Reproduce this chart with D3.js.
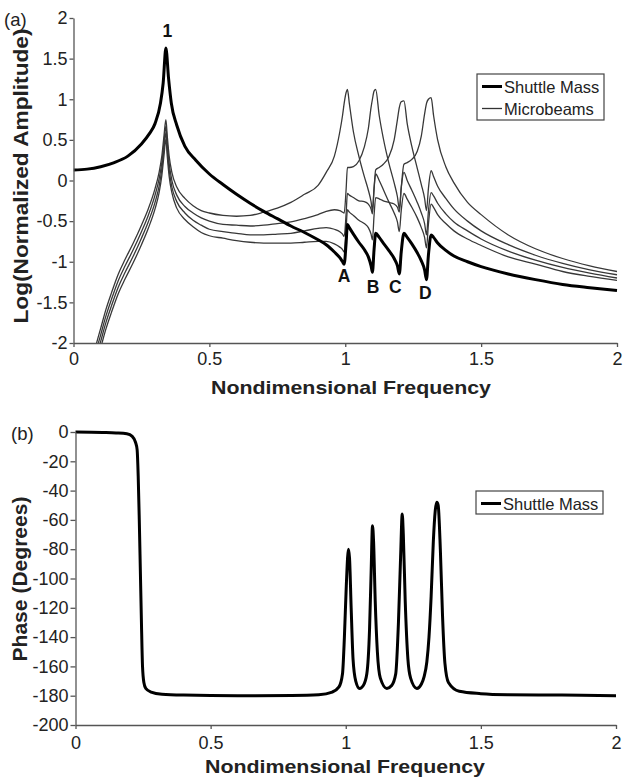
<!DOCTYPE html>
<html>
<head>
<meta charset="utf-8">
<script src="https://cdn.jsdelivr.net/npm/d3@7"></script>
<style>
    body { margin: 0; background: #fff; }
    svg text { font-family: Arial, "Liberation Sans", Helvetica, sans-serif; }
</style>
</head>
<body>
<div id="chart"></div>
<script>
// ---- Panel (a): log amplitude ----
const freqShuttle = [0, 0.05, 0.1, 0.15, 0.2, 0.25, 0.28, 0.3, 0.32, 0.33, 0.34, 0.35, 0.36, 0.38, 0.41, 0.45,
    0.5, 0.55, 0.6, 0.65, 0.7, 0.75, 0.8, 0.85, 0.9, 0.93, 0.96, 0.98, 0.99, 0.996, 1.003, 1.008, 1.015, 1.03,
    1.05, 1.07, 1.085, 1.095, 1.1, 1.106, 1.112, 1.125, 1.14, 1.16, 1.18, 1.192, 1.199, 1.206, 1.216, 1.228,
    1.245, 1.265, 1.28, 1.292, 1.299, 1.306, 1.316, 1.325, 1.34, 1.37, 1.4, 1.45, 1.5, 1.6, 1.7, 1.8, 1.9, 2.0];
const ampShuttle = [0.13, 0.14, 0.17, 0.22, 0.30, 0.45, 0.58, 0.70, 0.95, 1.2, 1.63, 1.25, 0.95, 0.68, 0.42, 0.25,
    0.08, -0.05, -0.17, -0.28, -0.38, -0.47, -0.56, -0.64, -0.73, -0.79, -0.88, -0.95, -1.0, -1.03, -0.78, -0.54, -0.58, -0.66,
    -0.76, -0.85, -0.94, -1.05, -1.13, -0.85, -0.65, -0.70, -0.77, -0.86, -0.96, -1.05, -1.15, -0.88, -0.65, -0.70,
    -0.78, -0.89, -0.99, -1.10, -1.22, -0.92, -0.67, -0.70, -0.77, -0.86, -0.93, -1.0, -1.06, -1.15, -1.22, -1.28, -1.32, -1.355];

const freqBeam = [0.07, 0.085, 0.1, 0.12, 0.14, 0.165, 0.19, 0.22, 0.25, 0.275, 0.3, 0.315, 0.325, 0.333, 0.34,
    0.345, 0.352, 0.362, 0.38, 0.41, 0.44, 0.47, 0.5, 0.55, 0.6, 0.65, 0.7, 0.75, 0.8, 0.85, 0.9, 0.93, 0.96, 0.98, 0.99,
    0.996, 1.003, 1.008, 1.015, 1.03, 1.05, 1.07, 1.085, 1.095, 1.1, 1.106, 1.112, 1.125, 1.14, 1.16,
    1.18, 1.192, 1.199, 1.206, 1.216, 1.228, 1.245, 1.265, 1.28, 1.292, 1.299, 1.306, 1.316, 1.325, 1.34,
    1.37, 1.4, 1.45, 1.5, 1.6, 1.7, 1.8, 1.9, 2.0];
const ampBeam1 = [-2.2, -2.0, -1.82, -1.58, -1.38, -1.15, -0.97, -0.77, -0.55, -0.35, -0.1, 0.1, 0.3, 0.55, 0.75,
    0.55, 0.3, 0.1, -0.08, -0.22, -0.31, -0.37, -0.40, -0.43, -0.44, -0.43, -0.39, -0.34, -0.27, -0.17, -0.06, 0.1, 0.3, 0.6, 0.8,
    0.95, 1.08, 1.12, 0.95, 0.6, 0.3, 0.05, -0.12, -0.26, -0.37, -0.1, 0.08, 0.0, -0.11, -0.26,
    -0.4, -0.51, -0.63, -0.37, -0.16, -0.23, -0.33, -0.46, -0.58, -0.7, -0.83, -0.54, -0.29, -0.33, -0.42,
    -0.53, -0.62, -0.72, -0.8, -0.94, -1.03, -1.12, -1.18, -1.23];
const ampBeam2 = [-2.28, -2.08, -1.9, -1.66, -1.46, -1.23, -1.05, -0.85, -0.63, -0.43, -0.18, 0.02, 0.22, 0.47, 0.67,
    0.46, 0.21, 0.0, -0.18, -0.32, -0.40, -0.46, -0.50, -0.54, -0.55, -0.56, -0.55, -0.53, -0.51, -0.47, -0.42, -0.38, -0.36, -0.37, -0.39,
    -0.40, -0.12, 0.16, 0.16, 0.17, 0.24, 0.41, 0.64, 0.9, 1.0, 1.1, 1.12, 0.8, 0.52, 0.22,
    -0.03, -0.2, -0.35, -0.09, 0.1, 0.0, -0.12, -0.27, -0.4, -0.53, -0.67, -0.38, -0.15, -0.19, -0.28,
    -0.41, -0.51, -0.62, -0.72, -0.87, -0.98, -1.07, -1.14, -1.2];
const ampBeam3 = [-2.37, -2.16, -1.98, -1.74, -1.54, -1.31, -1.13, -0.93, -0.71, -0.51, -0.27, -0.07, 0.14, 0.39, 0.59,
    0.38, 0.13, -0.08, -0.26, -0.40, -0.49, -0.55, -0.60, -0.63, -0.65, -0.67, -0.67, -0.66, -0.65, -0.62, -0.59, -0.58, -0.60, -0.63, -0.66,
    -0.69, -0.42, -0.16, -0.18, -0.21, -0.25, -0.26, -0.29, -0.35, -0.41, -0.10, 0.13, 0.16, 0.2, 0.29,
    0.5, 0.75, 0.9, 0.97, 0.98, 0.7, 0.42, 0.15, -0.05, -0.22, -0.37, -0.1, 0.12, 0.05, -0.07,
    -0.22, -0.35, -0.5, -0.62, -0.79, -0.92, -1.02, -1.1, -1.16];
const ampBeam4 = [-2.44, -2.24, -2.06, -1.82, -1.62, -1.39, -1.21, -1.01, -0.79, -0.59, -0.35, -0.15, 0.06, 0.31, 0.51,
    0.30, 0.05, -0.15, -0.34, -0.48, -0.57, -0.64, -0.68, -0.71, -0.74, -0.76, -0.77, -0.77, -0.77, -0.76, -0.75, -0.75, -0.78, -0.82, -0.85,
    -0.88, -0.61, -0.36, -0.39, -0.43, -0.49, -0.53, -0.58, -0.66, -0.73, -0.43, -0.21, -0.225, -0.25, -0.27,
    -0.29, -0.33, -0.39, -0.09, 0.2, 0.22, 0.26, 0.36, 0.55, 0.82, 0.95, 1.0, 1.02, 0.8, 0.5,
    0.17, -0.03, -0.27, -0.42, -0.67, -0.84, -0.96, -1.05, -1.12];
const ampTicks = [-2, -1.5, -1, -0.5, 0, 0.5, 1, 1.5, 2];

// ---- Panel (b): phase ----
const freqPhase = [0, 0.1, 0.15, 0.19, 0.21, 0.222, 0.228, 0.232, 0.236, 0.24, 0.244, 0.248, 0.253, 0.26, 0.28, 0.32,
    0.4, 0.6, 0.8, 0.9, 0.95, 0.975, 0.988, 0.995, 1.002, 1.01, 1.014, 1.02, 1.027, 1.037, 1.051, 1.065,
    1.078, 1.088, 1.094, 1.099, 1.103, 1.109, 1.117, 1.128, 1.152, 1.17, 1.185, 1.195, 1.203, 1.209, 1.213,
    1.22, 1.23, 1.24, 1.263, 1.28, 1.29, 1.3, 1.308, 1.316, 1.324, 1.331, 1.337, 1.342, 1.35, 1.358, 1.367,
    1.38, 1.42, 1.5, 1.6, 1.8, 2.0];
const phaseShuttle = [0, -0.3, -0.6, -1.2, -3, -7, -12, -30, -60, -95, -130, -160, -171, -175, -177.5, -179,
    -179.6, -180, -179.8, -179.3, -177.5, -174, -165, -140, -105, -80, -86, -120, -155, -170, -175, -173,
    -165, -135, -95, -64, -75, -115, -150, -168, -175, -173, -165, -130, -85, -56, -70,
    -115, -155, -168, -175, -172, -167, -157, -140, -112, -75, -54, -48, -50, -80, -125, -158,
    -171, -177, -178.6, -179.3, -179.6, -180];
const phaseTicks = [-200, -180, -160, -140, -120, -100, -80, -60, -40, -20, 0];
const freqTicks = [0, 0.5, 1, 1.5, 2];

const peakNotes = [
    { text: '1', f: 0.345, v: 1.77 },
    { text: 'A', f: 0.996, v: -1.255 },
    { text: 'B', f: 1.102, v: -1.38 },
    { text: 'C', f: 1.184, v: -1.38 },
    { text: 'D', f: 1.295, v: -1.46 }
];

const AXIS = '#555';
const INK = '#222';

const svg = d3.select('#chart').append('svg')
    .attr('width', 623)
    .attr('height', 780);

function styleAxis(g) {
    g.attr('font-family', null).attr('font-size', null);
    g.select('.domain').attr('stroke', AXIS).attr('stroke-width', 1.3);
    g.selectAll('.tick line').attr('stroke', AXIS).attr('stroke-width', 1.3);
    g.selectAll('.tick text').attr('fill', INK).style('font-size', '18px');
}

function drawAxes(x, y, yTicks, opts) {
    const [x0] = x.range();
    const [y0] = y.range();

    svg.append('g')
        .attr('transform', `translate(0,${y0})`)
        .call(d3.axisBottom(x).tickValues(freqTicks).tickFormat(d => String(d))
            .tickSize(4).tickSizeOuter(0).tickPadding(opts.xPad))
        .call(styleAxis);

    svg.append('g')
        .attr('transform', `translate(${x0},0)`)
        .call(d3.axisLeft(y).tickValues(yTicks).tickFormat(d => String(d))
            .tickSize(opts.yTick).tickSizeOuter(0).tickPadding(opts.yPad))
        .call(styleAxis);

    // x title
    svg.append('text')
        .attr('x', opts.xTitleMid)
        .attr('y', opts.xTitleY)
        .attr('text-anchor', 'middle')
        .attr('textLength', 280)
        .attr('lengthAdjust', 'spacingAndGlyphs')
        .style('font-size', '19px')
        .style('font-weight', 'bold')
        .attr('fill', INK)
        .text('Nondimensional Frequency');

    // y title
    svg.append('text')
        .attr('transform', `translate(${opts.yTitleX},${opts.yTitleMid}) rotate(-90)`)
        .attr('text-anchor', 'middle')
        .attr('textLength', opts.yTitleLen)
        .attr('lengthAdjust', 'spacingAndGlyphs')
        .style('font-size', '19.5px')
        .style('font-weight', 'bold')
        .attr('fill', INK)
        .text(opts.yTitle);

    // panel tag
    svg.append('text')
        .attr('x', opts.tagX)
        .attr('y', opts.tagY)
        .style('font-size', '18.5px')
        .attr('fill', INK)
        .text(opts.tag);
}

function drawLegend(x, y, w, h, rows) {
    const g = svg.append('g').attr('transform', `translate(${x},${y})`);
    g.append('rect')
        .attr('width', w)
        .attr('height', h)
        .attr('fill', '#fff')
        .attr('stroke', '#444')
        .attr('stroke-width', 1.2);
    rows.forEach(r => {
        g.append('line')
            .attr('x1', 5).attr('x2', 25)
            .attr('y1', r.dy).attr('y2', r.dy)
            .attr('stroke', r.color)
            .attr('stroke-width', r.width);
        g.append('text')
            .attr('x', 27)
            .attr('y', r.dy + 6)
            .style('font-size', '16.5px')
            .attr('fill', INK)
            .text(r.label);
    });
}

// ================= Panel (a) =================
const xA = d3.scaleLinear().domain([0, 2]).range([73.5, 617]);
const yA = d3.scaleLinear().domain([-2, 2]).range([343, 18]);

svg.append('clipPath').attr('id', 'clipA')
    .append('rect')
    .attr('x', 73.5).attr('y', 10)
    .attr('width', 617 - 73.5 + 2).attr('height', 343 - 10);

const lineA = d3.line()
    .x(d => xA(d[0]))
    .y(d => yA(d[1]))
    .curve(d3.curveMonotoneX);

const plotA = svg.append('g').attr('clip-path', 'url(#clipA)');

[ampBeam1, ampBeam2, ampBeam3, ampBeam4].forEach(vals => {
    plotA.append('path')
        .datum(d3.zip(freqBeam, vals))
        .attr('fill', 'none')
        .attr('stroke', '#383838')
        .attr('stroke-width', 1.3)
        .attr('stroke-linejoin', 'round')
        .attr('d', lineA);
});

plotA.append('path')
    .datum(d3.zip(freqShuttle, ampShuttle))
    .attr('fill', 'none')
    .attr('stroke', '#000')
    .attr('stroke-width', 3)
    .attr('stroke-linejoin', 'round')
    .attr('d', lineA);

drawAxes(xA, yA, ampTicks, {
    xPad: 5, yTick: 4, yPad: 2,
    xTitleMid: 351, xTitleY: 394,
    yTitle: 'Log(Normalized Amplitude)', yTitleX: 28, yTitleMid: 176, yTitleLen: 295,
    tag: '(a)', tagX: 4, tagY: 26
});

peakNotes.forEach(n => {
    svg.append('text')
        .attr('x', xA(n.f))
        .attr('y', yA(n.v))
        .attr('text-anchor', 'middle')
        .style('font-size', '17.5px')
        .style('font-weight', 'bold')
        .attr('fill', '#111')
        .text(n.text);
});

drawLegend(477, 74, 127, 46, [
    { label: 'Shuttle Mass', color: '#000', width: 3, dy: 12.5 },
    { label: 'Microbeams', color: '#333', width: 1.3, dy: 34.5 }
]);

// ================= Panel (b) =================
const xB = d3.scaleLinear().domain([0, 2]).range([75.5, 616]);
const yB = d3.scaleLinear().domain([-200, 0]).range([725, 432]);

const lineB = d3.line()
    .x(d => xB(d[0]))
    .y(d => yB(d[1]))
    .curve(d3.curveMonotoneX);

svg.append('path')
    .datum(d3.zip(freqPhase, phaseShuttle))
    .attr('fill', 'none')
    .attr('stroke', '#000')
    .attr('stroke-width', 3)
    .attr('stroke-linejoin', 'round')
    .attr('d', lineB);

drawAxes(xB, yB, phaseTicks, {
    xPad: 7, yTick: 5, yPad: 2,
    xTitleMid: 345, xTitleY: 773,
    yTitle: 'Phase (Degrees)', yTitleX: 27, yTitleMid: 579, yTitleLen: 165,
    tag: '(b)', tagX: 11, tagY: 440
});

drawLegend(476, 491, 127, 23, [
    { label: 'Shuttle Mass', color: '#000', width: 3, dy: 12.5 }
]);
</script>
</body>
</html>
